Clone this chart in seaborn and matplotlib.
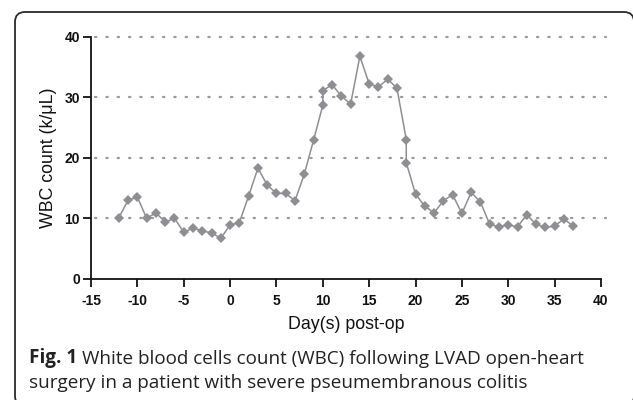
import matplotlib

matplotlib.use("Agg")
import matplotlib.pyplot as plt
import matplotlib.transforms as mtransforms
import pandas as pd
import seaborn as sns
from matplotlib.patches import FancyBboxPatch

# Day post-op and WBC count (k/uL); days 10 and 19 have two draws each
DAYS = [-12, -11, -10, -9, -8, -7, -6, -5, -4, -3, -2, -1, 0, 1, 2, 3, 4, 5,
        6, 7, 8, 9, 10, 10, 11, 12, 13, 14, 15, 16, 17, 18, 19, 19, 20, 21,
        22, 23, 24, 25, 26, 27, 28, 29, 30, 31, 32, 33, 34, 35, 36, 37]
WBC = [10.1, 13.0, 13.5, 10.0, 10.9, 9.4, 10.0, 7.7, 8.4, 7.9, 7.6, 6.7, 8.9,
       9.3, 13.7, 18.3, 15.5, 14.1, 14.1, 12.9, 17.3, 22.9, 28.7, 31.1,
       32.1, 30.2, 28.9, 36.8, 32.2, 31.7, 33.0, 31.5, 23.0, 19.2, 14.0, 12.0,
       10.9, 12.9, 13.9, 10.8, 14.3, 12.7, 9.0, 8.6, 8.9, 8.6, 10.6, 9.0, 8.5,
       8.7, 9.9, 8.7]
X_TICKS = list(range(-15, 45, 5))
Y_TICKS = [0, 10, 20, 30, 40]
GRID_LEVELS = [10, 20, 30, 40]

LINE_COLOR = "#8e8e93"
TICK_FONT = "Liberation Sans"
CAPTION_FONT = "Open Sans"

df = pd.DataFrame({"day": DAYS, "wbc": WBC})

sns.set_theme(style="ticks")
plt.rcParams["font.family"] = [TICK_FONT, "DejaVu Sans"]

fig = plt.figure(figsize=(6.33, 4.0), dpi=100)
ax = fig.add_axes([0.1438, 0.303, 0.8056, 0.605])

for level in GRID_LEVELS:
    ax.plot([-14.6, 40.5], [level, level], color="#9a9a9a", linewidth=1.6,
            linestyle=(0, (0.6, 4.5)), dash_capstyle="round", clip_on=False,
            zorder=1)

sns.lineplot(data=df, x="day", y="wbc", estimator=None, sort=False, ax=ax,
             color=LINE_COLOR, linewidth=1.1, marker="D", markersize=5,
             markeredgewidth=0, markerfacecolor=LINE_COLOR, zorder=3)

ax.set_xlim(-15, 40)
ax.set_ylim(0, 40)
ax.set_xticks(X_TICKS)
ax.set_yticks(Y_TICKS)
ax.set_xticklabels([str(t) for t in X_TICKS], fontweight="bold", fontsize=10)
ax.set_yticklabels([str(t) for t in Y_TICKS], fontweight="bold", fontsize=10)
ax.tick_params(direction="out", length=6, width=1.3, color="#111111",
               labelcolor="#111111")
ax.tick_params(axis="x", pad=5)
ax.tick_params(axis="y", pad=2)
ax.set_xlabel("Day(s) post-op", fontsize=12.8, color="#111111", labelpad=6)
ax.set_ylabel("WBC count (k/\u03bcL)", fontsize=12.8, color="#111111",
              labelpad=5)
sns.despine(ax=ax)
for side in ("left", "bottom"):
    ax.spines[side].set_linewidth(1.3)
    ax.spines[side].set_color("#111111")
ax.set_facecolor("white")

# rounded panel frame, in pixel coordinates
frame = FancyBboxPatch((15, -6), 619, 394, boxstyle="round,pad=0,rounding_size=10",
                       transform=mtransforms.IdentityTransform(), fill=False,
                       edgecolor="#2b2b2b", linewidth=1.3)
fig.patches.append(frame)

# caption: bold "Fig. 1" then regular text
fig_label = fig.text(29 / 633, 1 - 363.5 / 400, "Fig. 1", fontsize=13.6,
                     fontweight="bold", family=CAPTION_FONT, va="baseline",
                     color="#222222")
fig.canvas.draw()
bbox = fig_label.get_window_extent(fig.canvas.get_renderer())
fig.text(bbox.x1 / 633 + 5 / 633, 1 - 363.5 / 400,
         "White blood cells count (WBC) following LVAD open-heart",
         fontsize=13.6, family=CAPTION_FONT, va="baseline", color="#222222")
fig.text(29 / 633, 1 - 388 / 400,
         "surgery in a patient with severe pseumembranous colitis",
         fontsize=13.6, family=CAPTION_FONT, va="baseline", color="#222222")

fig.savefig("out.png", dpi=100, facecolor="white")
